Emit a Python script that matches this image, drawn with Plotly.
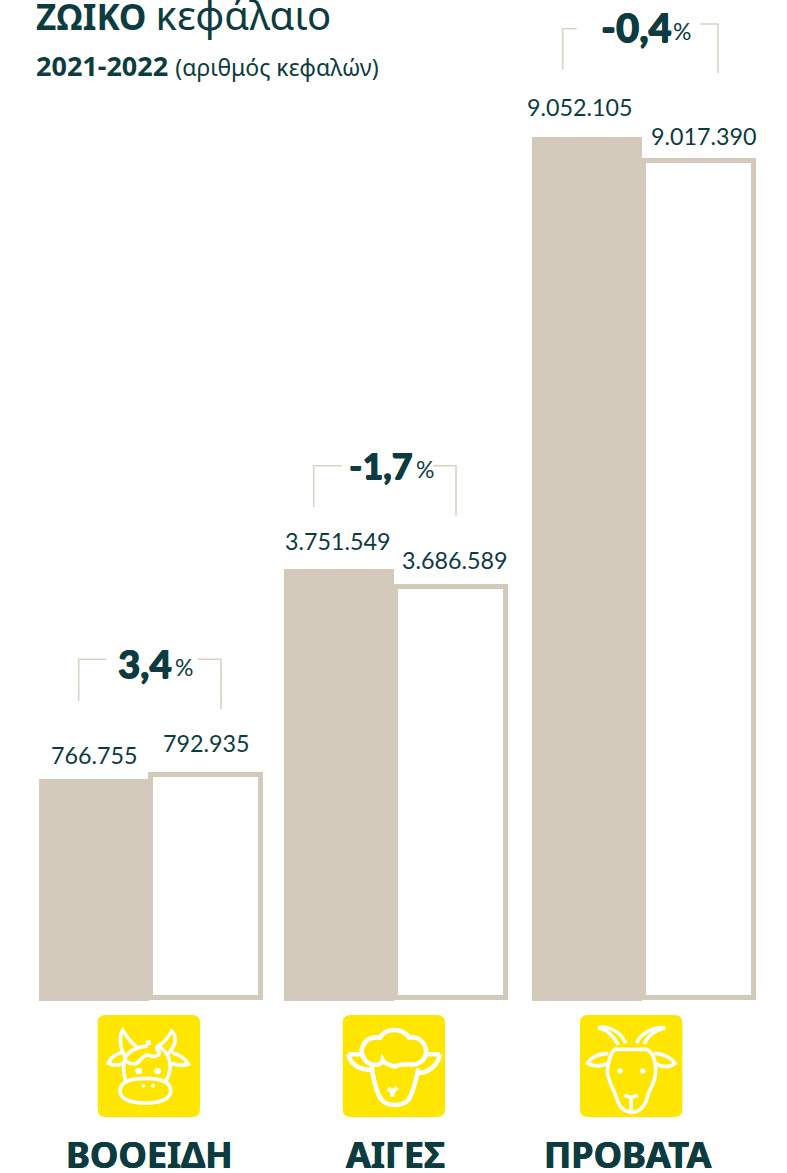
import re
import plotly.graph_objects as go

# ---------- data ----------
categories = ["ΒΟΟΕΙΔΗ", "ΑΙΓΕΣ", "ΠΡΟΒΑΤΑ"]
values_2021 = [766755, 3751549, 9052105]
values_2022 = [792935, 3686589, 9017390]
changes = ["3,4", "-1,7", "-0,4"]
# Bar heights (the reference is not to a linear scale)
drawn_2021 = [221.5, 431.5, 863.5]
drawn_2022 = [228.5, 416.5, 842.0]

# ---------- style / layout ----------
W, H = 787, 1173
BASE = 1000.5
DARK = "#0c3c40"
TAN = "#d3cabb"
LINE = "#d9d2c6"
YEL = "#ffe600"
FONT = "Lato, 'Noto Sans', sans-serif"
GREEK = "'Noto Sans', sans-serif"
HEAVY = f"0.5px 0 0 {DARK}, -0.5px 0 0 {DARK}, 0 0.5px 0 {DARK}"
SEMI = f"0.4px 0 0 {DARK}, -0.4px 0 0 {DARK}"

fill_edges = [(39, 149), (284, 394), (532, 642)]
out_edges = [(150.5, 260.5), (396, 505.5), (644, 753.5)]
lab21 = [(94, 755), (338, 541), (580, 107)]
lab22 = [(206.5, 743), (455, 560), (704, 136)]
pct_num_right = [(174, 663), (415, 465), (674, 27)]
pct_sign_left = [173, 414, 671]
pct_size = [38.5, 36, 40]
cat_x = [149, 395, 627.5]
icon_rects = [(97.7, 200), (342.7, 445), (580, 682.3)]


def fy(y):
    return BASE - y


def fmt(v):
    return f"{v:,}".replace(",", ".")


def conv(path, ox=0, oy=0, s=1.0):
    """Path in pixel-like coordinates -> axis coordinates."""
    out, is_x = [], True
    for tok in re.findall(r"[A-Za-z]|-?\d+\.?\d*", path):
        if tok.isalpha():
            out.append(tok)
            is_x = True
        else:
            v = float(tok)
            if is_x:
                out.append(f"{ox + v * s:.2f}")
            else:
                out.append(f"{fy(oy + v * s):.2f}")
            is_x = not is_x
    return " ".join(out)


shapes, annotations = [], []


def text(x, y, t, size, color=DARK, anchor="center", family=FONT, weight=None, shadow=None):
    f = dict(family=family, size=size, color=color)
    if weight:
        f["weight"] = weight
    if shadow:
        f["shadow"] = shadow
    annotations.append(dict(x=x, y=fy(y), xref="x", yref="y", text=t, showarrow=False,
                            xanchor=anchor, yanchor="middle", align="left", font=f))


def pathshape(p, color, width, fill=None):
    shapes.append(dict(type="path", xref="x", yref="y", path=p, layer="above",
                       line=dict(color=color, width=width),
                       fillcolor=fill if fill else "rgba(0,0,0,0)"))


def dot(cx, cy, r, ox, oy):
    s = 1 / 3
    x, y = ox + cx * s, oy + cy * s
    rr = r * s
    shapes.append(dict(type="circle", xref="x", yref="y", layer="above",
                       x0=x - rr, x1=x + rr, y0=fy(y - rr), y1=fy(y + rr),
                       fillcolor="white", line=dict(width=0)))


# ---------- bars ----------
fig = go.Figure()
fig.add_bar(x=[(a + b) / 2 for a, b in out_edges], width=[b - a for a, b in out_edges],
            y=[h - 5 for h in drawn_2022], base=2.5, name="2022",
            marker=dict(color="white", line=dict(color=TAN, width=5)), showlegend=False)
fig.add_bar(x=[(a + b) / 2 for a, b in fill_edges], width=[b - a for a, b in fill_edges],
            y=drawn_2021, base=0, name="2021",
            marker=dict(color=TAN, line=dict(width=0)), showlegend=False)

# ---------- value labels ----------
for (x, y), v in zip(lab21, values_2021):
    text(x, y, fmt(v), 23.3)
for (x, y), v in zip(lab22, values_2022):
    text(x, y, fmt(v), 23.3)

# ---------- change labels ----------
for (x, y), x2, c, sz in zip(pct_num_right, pct_sign_left, changes, pct_size):
    text(x, y, c, sz, anchor="right", weight=900, shadow=HEAVY)
    text(x2, y + 4, "%", 23, anchor="left")

# ---------- brackets ----------
brackets = [
    (78.7, 700.7, 659.3, 106.7), (221, 709, 659.3, 198),
    (313.7, 507, 465.7, 341.7), (456, 515.7, 465.7, 433),
    (562.7, 69, 28.7, 576.7), (718, 73, 24, 700),
]
for x, y0, y1, x1 in brackets:
    pathshape(conv(f"M{x},{y0} L{x},{y1} L{x1},{y1}"), LINE, 1.6)

# ---------- titles ----------
text(34, 14, "<b>ΖΩΙΚΟ</b> <span style='font-size:40px'>κεφάλαιο</span>", 35, anchor="left", family=GREEK)
text(34, 65, "<b>2021-2022</b> <span style='font-size:23px'>(αριθμός κεφαλών)</span>", 27,
     anchor="left", family=GREEK)

# ---------- categories ----------
for x, c in zip(cat_x, categories):
    text(x, 1154, f"<b>{c}</b>", 36, family=GREEK, shadow=SEMI)

# ---------- icons ----------
for a, b in icon_rects:
    r = 8
    t, u = 1015, 1117
    p = (f"M{a+r},{t} L{b-r},{t} Q{b},{t} {b},{t+r} L{b},{u-r} Q{b},{u} {b-r},{u} "
         f"L{a+r},{u} Q{a},{u} {a},{u-r} L{a},{t+r} Q{a},{t} {a+r},{t} Z")
    pathshape(conv(p), YEL, 0, YEL)

S = 1 / 3
# cow
ox, oy = 80, 1005
cow = [
    "M120,258 C120,232 150,220 197,220 C245,220 272,232 272,258 C272,282 240,294 197,294 C152,294 120,282 120,258 Z",
    "M137,228 C130,205 128,180 135,160 C142,140 170,125 203,123",
    "M232,125 C250,128 268,150 270,180 C272,200 265,215 258,228",
    "M135,155 C118,125 118,90 128,75 C140,95 150,112 170,125",
    "M262,150 C285,125 295,95 275,78 C265,98 250,115 232,125",
    "M130,142 C110,145 90,158 85,175 C100,182 118,180 128,175",
    "M277,143 C295,148 315,160 325,177 C310,183 290,180 272,175",
    "M238,122 C225,125 230,135 237,140 C240,150 225,160 205,150 C190,148 185,165 170,175 C155,180 140,172 135,165",
]
for p in cow:
    pathshape(conv(p, ox, oy, S), "white", 3.6)
for cx, cy, r in [(205, 113, 8), (176, 198, 10), (233, 198, 10), (190, 242, 6), (219, 242, 6)]:
    dot(cx, cy, r, ox, oy)

# sheep
ox, oy = 330, 1005
sheep = [
    "M125,178 C100,172 90,140 98,125 C108,100 130,95 150,98 C165,70 215,65 238,98 C265,92 290,115 288,143 "
    "C285,170 260,182 240,178 C225,178 205,178 195,185 C180,180 165,178 158,165 C155,178 140,182 125,178",
    "M55,148 L97,148 M55,148 C60,175 85,195 130,195",
    "M330,148 L285,148 M330,148 C325,175 300,205 258,205",
    "M125,185 C130,220 140,265 155,285 C175,305 215,305 235,285 C250,262 258,225 265,190",
    "M174,250 L187,260 L202,247 M187,260 L187,275",
]
for p in sheep:
    pathshape(conv(p, ox, oy, S), "white", 4.5)

# goat
ox, oy = 565, 1005
goat = [
    "M150,133 C140,140 130,165 127,195 C125,215 140,245 150,265 C158,290 165,320 200,322 C235,320 245,290 250,265 "
    "C262,240 275,215 272,190 C270,165 262,140 245,133 L150,133 Z",
    "M160,120 C150,100 130,75 100,68 C125,62 165,75 182,115",
    "M215,115 C225,85 265,65 300,68 C270,75 245,95 238,118",
    "M130,145 C100,145 75,160 68,175 C85,185 110,185 128,175",
    "M268,145 C295,145 320,160 330,175 C315,188 290,188 272,175",
    "M178,270 C190,278 205,278 218,270",
    "M198,278 L198,318",
]
for p in goat:
    pathshape(conv(p, ox, oy, S), "white", 3.6)
for cx, cy, r in [(165, 198, 8), (233, 198, 8)]:
    dot(cx, cy, r, ox, oy)

fig.update_layout(
    width=W, height=H, margin=dict(l=0, r=0, t=0, b=0), autosize=False,
    paper_bgcolor="white", plot_bgcolor="white", barmode="overlay", bargap=0,
    xaxis=dict(range=[0, W], visible=False, fixedrange=True),
    yaxis=dict(range=[fy(H), fy(0)], visible=False, fixedrange=True),
    shapes=shapes, annotations=annotations, showlegend=False,
)

fig.write_html("out.html", config={"displayModeBar": False},
               post_script="document.body.style.margin='0';document.documentElement.style.overflow='hidden';")
